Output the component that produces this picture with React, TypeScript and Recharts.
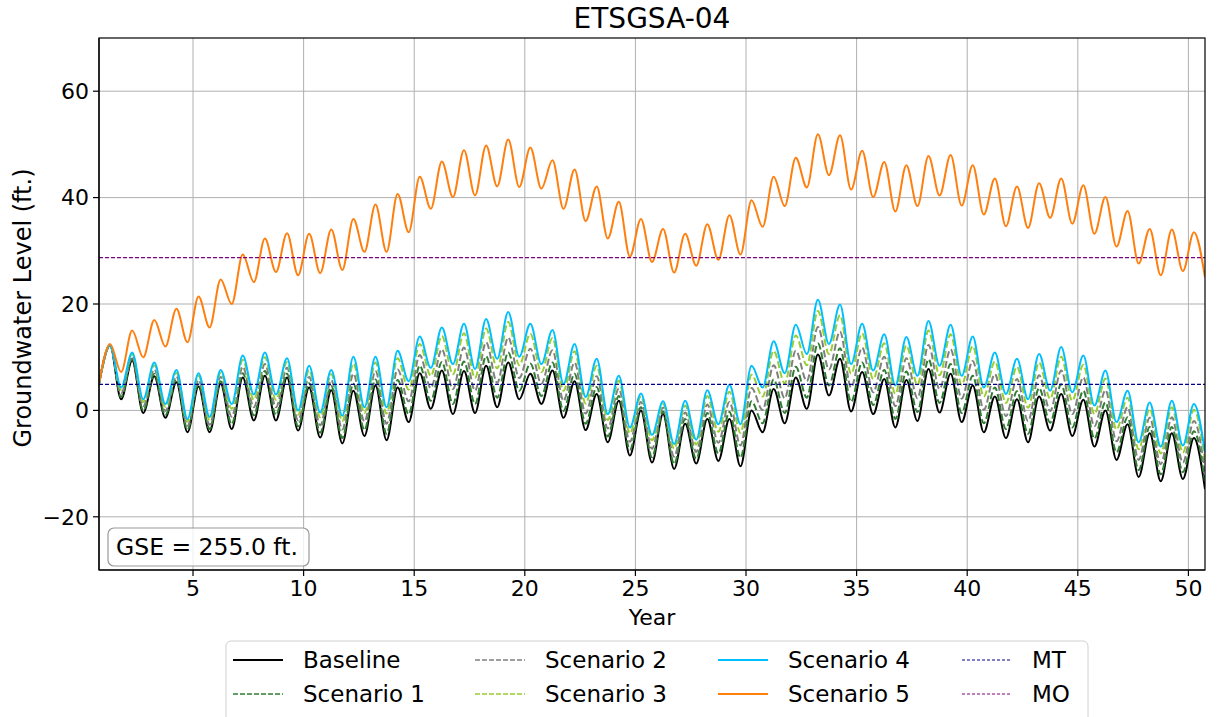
import React from 'react';
import { LineChart, Line, XAxis, YAxis, CartesianGrid, ReferenceLine } from 'recharts';

// Start value (all series begin together)
const startValues = { baseline: 5.0, s1: 5.0, s2: 5.0, s3: 5.0, s4: 5.0, s5: 5.0 };

// Yearly seasonal high (peak) and low (trough) levels, years 1..50
const baselinePeaks = [12.2, 9.4, 6.4, 5.3, 4.5, 5.0, 6.2, 6.5, 6.2, 4.3, 3.8, 3.7, 4.7, 4.3, 7.0, 7.5, 7.4, 8.4, 9.0, 6.9, 7.5, 5.5, 3.1, 1.8, 0.0, -0.7, -2.5, -1.6, -1.6, 0.0, 4.0, 6.2, 10.5, 9.7, 7.2, 5.9, 5.7, 7.8, 6.9, 4.7, 2.6, 2.1, 2.6, 3.1, 2.0, 0.0, -2.6, -4.3, -4.3, -5.2];
const baselineTroughs = [2.1, -0.5, -1.4, -4.1, -4.1, -3.5, -1.9, -1.9, -3.8, -5.1, -6.2, -4.8, -5.6, -2.2, 0.3, -0.7, -0.5, 0.6, 2.1, 1.2, -1.4, -3.7, -6.0, -8.5, -9.8, -11.0, -10.0, -9.5, -10.5, -4.1, -2.4, 0.3, 2.8, -0.2, -0.7, -3.2, -2.0, -0.4, -2.2, -4.1, -5.2, -6.0, -3.8, -4.8, -6.8, -9.3, -12.5, -13.3, -12.9, -14.8];

const s1Peaks = [12.2, 9.7, 6.9, 5.8, 5.0, 5.5, 7.0, 7.4, 6.9, 5.1, 4.6, 5.0, 5.8, 5.7, 8.4, 9.1, 9.2, 10.2, 10.9, 8.8, 9.0, 6.9, 4.4, 2.7, 0.6, -0.2, -1.6, -0.5, -0.3, 1.7, 5.8, 8.2, 12.6, 11.7, 9.0, 7.6, 7.3, 9.6, 8.7, 6.5, 4.3, 3.6, 4.2, 4.9, 3.7, 1.5, -1.3, -3.1, -3.1, -3.9];
const s1Troughs = [2.5, 0.0, -0.9, -3.6, -3.5, -2.6, -0.9, -0.9, -3.0, -4.2, -5.2, -3.7, -4.4, -0.7, 1.8, 1.2, 1.2, 2.4, 3.7, 2.7, -0.1, -2.5, -4.9, -7.4, -8.8, -10.1, -9.1, -8.1, -8.9, -2.4, -0.5, 2.4, 4.7, 1.6, 1.0, -1.6, -0.3, 1.4, -0.5, -2.4, -3.5, -4.4, -2.3, -3.2, -5.3, -7.9, -11.2, -12.0, -11.6, -13.4];

const s2Peaks = [12.2, 10.1, 7.7, 6.4, 5.7, 6.3, 8.2, 8.7, 8.0, 6.3, 5.7, 6.9, 7.4, 7.7, 10.4, 11.5, 11.8, 12.8, 13.7, 11.6, 11.3, 9.0, 6.4, 4.1, 1.6, 0.5, -0.4, 1.1, 1.6, 4.2, 8.5, 11.2, 15.7, 14.8, 11.8, 10.1, 9.8, 12.3, 11.5, 9.3, 6.8, 5.9, 6.6, 7.5, 6.2, 3.8, 0.6, -1.4, -1.3, -2.0];
const s2Troughs = [3.2, 0.8, -0.1, -2.9, -2.7, -1.2, 0.6, 0.6, -1.9, -2.8, -3.6, -2.1, -2.5, 1.7, 4.2, 4.0, 3.7, 5.2, 6.1, 5.0, 1.8, -0.6, -3.4, -5.9, -7.2, -8.7, -7.8, -6.1, -6.6, 0.1, 2.3, 5.5, 7.7, 4.3, 3.4, 0.8, 2.3, 4.0, 2.2, 0.1, -1.1, -2.0, -0.1, -0.7, -3.0, -5.8, -9.3, -10.1, -9.8, -11.4];

const s3Peaks = [12.2, 10.6, 8.5, 7.1, 6.5, 7.1, 9.5, 10.0, 9.1, 7.6, 6.8, 8.8, 9.0, 9.8, 12.5, 14.0, 14.5, 15.4, 16.6, 14.4, 13.6, 11.1, 8.4, 5.6, 2.6, 1.2, 0.9, 2.7, 3.5, 6.7, 11.2, 14.1, 18.7, 17.9, 14.5, 12.6, 12.2, 15.0, 14.3, 12.1, 9.2, 8.2, 9.0, 10.1, 8.6, 6.0, 2.4, 0.3, 0.6, 0.1];
const s3Troughs = [3.9, 1.6, 0.7, -2.1, -1.8, 0.3, 2.0, 2.0, -0.8, -1.3, -2.0, -0.5, -0.6, 3.9, 6.5, 6.8, 6.1, 7.9, 8.5, 7.2, 3.7, 1.3, -1.8, -4.3, -5.6, -7.2, -6.4, -4.0, -4.2, 2.6, 5.1, 8.5, 10.6, 6.9, 5.9, 3.1, 4.8, 6.6, 4.8, 2.6, 1.4, 0.5, 2.2, 1.8, -0.7, -3.6, -7.3, -8.1, -7.9, -9.3];

const s4Peaks = [12.2, 10.9, 9.0, 7.6, 7.0, 7.6, 10.3, 10.9, 9.8, 8.4, 7.6, 10.1, 10.1, 11.2, 13.9, 15.6, 16.3, 17.2, 18.5, 16.3, 15.1, 12.5, 9.7, 6.5, 3.2, 1.7, 1.8, 3.8, 4.8, 8.4, 13.0, 16.1, 20.8, 19.9, 16.3, 14.3, 13.8, 16.8, 16.1, 13.9, 10.9, 9.7, 10.6, 11.9, 10.3, 7.5, 3.7, 1.5, 1.8, 1.2];
const s4Troughs = [4.3, 2.1, 1.2, -1.6, -1.2, 1.2, 3.0, 3.0, 0.0, -0.4, -1.0, 0.6, 0.6, 5.5, 8.0, 8.7, 7.8, 9.7, 10.1, 8.7, 5.0, 2.5, -0.7, -3.2, -4.6, -6.3, -5.5, -2.6, -2.6, 4.3, 7.0, 10.6, 12.5, 8.7, 7.5, 4.7, 6.5, 8.4, 6.5, 4.3, 3.1, 2.1, 3.7, 3.4, 0.9, -2.2, -6.0, -6.8, -6.6, -7.9];

const s5Peaks = [12.5, 15.0, 17.0, 19.1, 21.4, 24.6, 29.3, 32.3, 33.3, 33.2, 34.0, 36.0, 38.7, 40.7, 43.9, 46.8, 48.9, 49.8, 50.9, 49.4, 47.0, 45.3, 42.1, 39.2, 36.0, 34.1, 33.2, 35.0, 36.7, 39.5, 43.9, 47.5, 51.9, 51.7, 48.8, 46.7, 46.1, 47.8, 48.0, 46.1, 43.6, 42.1, 42.7, 43.6, 42.3, 40.1, 37.5, 34.1, 34.0, 33.5];
const s5Troughs = [7.2, 10.0, 12.0, 12.8, 15.6, 20.0, 24.1, 26.0, 25.4, 25.8, 26.4, 29.8, 29.8, 33.5, 37.9, 40.1, 40.4, 42.1, 42.0, 41.7, 37.9, 35.6, 32.3, 28.9, 27.9, 25.9, 27.2, 28.3, 29.3, 34.5, 38.4, 41.9, 44.2, 41.5, 40.1, 37.4, 38.4, 40.4, 38.5, 36.8, 34.6, 34.3, 36.2, 35.1, 33.2, 30.8, 27.6, 25.4, 26.2, 25.0];

const MT_LEVEL = 4.9;
const MO_LEVEL = 28.7;
const xTicks = [5, 10, 15, 20, 25, 30, 35, 40, 45, 50];
const yTicks = [-20, 0, 20, 40, 60];

const seriesMeta = [
  { key: 'baseline', name: 'Baseline', color: '#000000', dash: undefined as string | undefined, peaks: baselinePeaks, troughs: baselineTroughs },
  { key: 's1', name: 'Scenario 1', color: '#2f7d32', dash: '7 3', peaks: s1Peaks, troughs: s1Troughs },
  { key: 's2', name: 'Scenario 2', color: '#808080', dash: '7 3', peaks: s2Peaks, troughs: s2Troughs },
  { key: 's3', name: 'Scenario 3', color: '#9acd32', dash: '7 3', peaks: s3Peaks, troughs: s3Troughs },
  { key: 's4', name: 'Scenario 4', color: '#00bfff', dash: undefined, peaks: s4Peaks, troughs: s4Troughs },
  { key: 's5', name: 'Scenario 5', color: '#ff7f0e', dash: undefined, peaks: s5Peaks, troughs: s5Troughs },
];

const rows: Record<string, number>[] = [];
rows.push({ year: 0.75, ...startValues });
for (let i = 0; i < baselinePeaks.length; i++) {
  const p: Record<string, number> = { year: i + 1.25 };
  const t: Record<string, number> = { year: i + 1.75 };
  seriesMeta.forEach((s) => {
    p[s.key] = s.peaks[i];
    t[s.key] = s.troughs[i];
  });
  rows.push(p, t);
}

const fmt = (v: number) => (v < 0 ? '\u2212' + Math.abs(v) : String(v));
const FONT = '"DejaVu Sans", sans-serif';

const legendItems = [
  { name: 'Baseline', color: '#000000', dash: undefined as string | undefined, w: 2, col: 0, row: 0 },
  { name: 'Scenario 1', color: '#2f7d32', dash: '5 2', w: 1.5, col: 0, row: 1 },
  { name: 'Scenario 2', color: '#808080', dash: '5 2', w: 1.5, col: 1, row: 0 },
  { name: 'Scenario 3', color: '#9acd32', dash: '5 2', w: 1.5, col: 1, row: 1 },
  { name: 'Scenario 4', color: '#00bfff', dash: undefined, w: 2, col: 2, row: 0 },
  { name: 'Scenario 5', color: '#ff7f0e', dash: undefined, w: 2, col: 2, row: 1 },
  { name: 'MT', color: '#00008b', dash: '3 2', w: 1.2, col: 3, row: 0 },
  { name: 'MO', color: '#800080', dash: '3 2', w: 1.2, col: 3, row: 1 },
];
const legendColX = [233, 475, 718, 962];
const legendRowY = [660, 694];

// plot frame (matches chart margins below)
const PLOT = { left: 99, top: 38, right: 1205, bottom: 570 };

export default function App() {
  return (
    <div style={{ position: 'absolute', left: 0, top: 0, width: 1220, height: 717, background: '#fff', fontFamily: FONT, overflow: 'hidden' }}>
      <LineChart width={1220} height={717} data={rows} margin={{ top: 38, right: 15, left: 39, bottom: 107 }}>
        <CartesianGrid stroke="#b0b0b0" strokeWidth={1} horizontalValues={yTicks} verticalValues={xTicks} />
        <XAxis
          dataKey="year"
          type="number"
          domain={[0.75, 50.75]}
          ticks={xTicks}
          allowDataOverflow
          height={40}
          tickSize={6}
          tickMargin={4}
          axisLine={{ stroke: '#000', strokeWidth: 1.2 }}
          tickLine={{ stroke: '#000', strokeWidth: 1.2 }}
          tick={{ fill: '#000', fontSize: 22, fontFamily: FONT }}
        />
        <YAxis
          type="number"
          domain={[-30, 70]}
          ticks={yTicks}
          allowDataOverflow
          width={60}
          tickSize={6}
          tickMargin={4}
          tickFormatter={fmt}
          axisLine={{ stroke: '#000', strokeWidth: 1.2 }}
          tickLine={{ stroke: '#000', strokeWidth: 1.2 }}
          tick={{ fill: '#000', fontSize: 22, fontFamily: FONT }}
        />
        {seriesMeta.map((s) => (
          <Line
            key={s.key}
            dataKey={s.key}
            name={s.name}
            type="monotone"
            stroke={s.color}
            strokeWidth={2}
            strokeDasharray={s.dash}
            dot={false}
            activeDot={false}
            isAnimationActive={false}
          />
        ))}
        <ReferenceLine y={MT_LEVEL} stroke="#00008b" strokeWidth={1.3} strokeDasharray="4 2" />
        <ReferenceLine y={MO_LEVEL} stroke="#800080" strokeWidth={1.3} strokeDasharray="4 2" />
      </LineChart>
      <svg width={1220} height={717} style={{ position: 'absolute', left: 0, top: 0, pointerEvents: 'none' }}>
        <rect x={PLOT.left} y={PLOT.top} width={PLOT.right - PLOT.left} height={PLOT.bottom - PLOT.top} fill="none" stroke="#000" strokeWidth={1.2} />
        <text x={652} y={28} textAnchor="middle" fontSize={28} fontFamily={FONT} fill="#000">ETSGSA-04</text>
        <text x={652} y={625} textAnchor="middle" fontSize={22} fontFamily={FONT} fill="#000">Year</text>
        <text transform="translate(31,308) rotate(-90)" textAnchor="middle" fontSize={24} fontFamily={FONT} fill="#000">Groundwater Level (ft.)</text>
        <rect x={108} y={528} width={201} height={38} rx={6} ry={6} fill="#fff" fillOpacity={0.8} stroke="#999" strokeWidth={1.2} />
        <text x={116} y={555} fontSize={23.5} fontFamily={FONT} fill="#000">GSE = 255.0 ft.</text>
        <rect x={226} y={641} width={862} height={90} rx={5} ry={5} fill="#fff" stroke="#d0d0d0" strokeWidth={1} />
        {legendItems.map((it) => {
          const x = legendColX[it.col];
          const y = legendRowY[it.row];
          return (
            <g key={it.name}>
              <line x1={x} x2={x + 50} y1={y} y2={y} stroke={it.color} strokeWidth={it.w} strokeDasharray={it.dash} />
              <text x={x + 70} y={y + 8} fontSize={23} fontFamily={FONT} fill="#000">{it.name}</text>
            </g>
          );
        })}
      </svg>
    </div>
  );
}
